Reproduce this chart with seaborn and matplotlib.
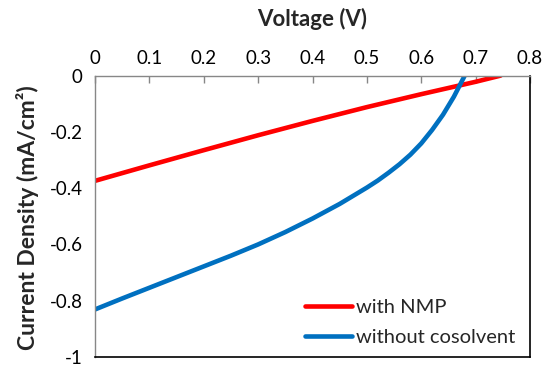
import matplotlib
matplotlib.use("Agg")
import matplotlib.pyplot as plt
import seaborn as sns
import pandas as pd

# ---- data ----
nmp_voltage = [0.0, 0.1, 0.2, 0.3, 0.4, 0.5, 0.6, 0.7, 0.746]
nmp_current = [-0.374, -0.319, -0.265, -0.212, -0.161, -0.112, -0.066, -0.022, 0.0]

nocos_voltage = [0.0, 0.05, 0.1, 0.15, 0.2, 0.25, 0.3, 0.35, 0.4, 0.45, 0.5,
                 0.52, 0.54, 0.56, 0.58, 0.6, 0.62, 0.64, 0.66, 0.68]
nocos_current = [-0.831, -0.792, -0.754, -0.716, -0.678, -0.640, -0.600, -0.556,
                 -0.508, -0.456, -0.398, -0.373, -0.345, -0.315, -0.281, -0.241,
                 -0.193, -0.139, -0.075, 0.0]

series_names = ["with NMP", "without cosolvent"]
series_colors = ["#FF0000", "#0070C0"]

x_ticks = [0, 0.1, 0.2, 0.3, 0.4, 0.5, 0.6, 0.7, 0.8]
x_tick_labels = ["0", "0.1", "0.2", "0.3", "0.4", "0.5", "0.6", "0.7", "0.8"]
y_ticks = [0, -0.2, -0.4, -0.6, -0.8, -1]
y_tick_labels = ["0", "-0.2", "-0.4", "-0.6", "-0.8", "-1"]

x_title = "Voltage (V)"
y_title = "Current Density (mA/cm²)"

df = pd.concat([
    pd.DataFrame({"V": nmp_voltage, "J": nmp_current, "series": series_names[0]}),
    pd.DataFrame({"V": nocos_voltage, "J": nocos_current, "series": series_names[1]}),
], ignore_index=True)

sns.set_style("white")
plt.rcParams["font.family"] = ["Lato", "DejaVu Sans"]

fig = plt.figure(figsize=(5.46, 3.66), dpi=100)
ax = fig.add_axes([95 / 546, 1 - 357 / 366, 435 / 546, (357 - 75.6) / 366])

sns.lineplot(data=df, x="V", y="J", hue="series", palette=series_colors,
             hue_order=series_names, estimator=None, sort=False,
             linewidth=3.3, ax=ax)

ax.set_xlim(0, 0.8)
ax.set_ylim(-1, 0)

ax.xaxis.tick_top()
ax.set_xticks(x_ticks)
ax.set_xticklabels(x_tick_labels)
ax.set_yticks(y_ticks)
ax.set_yticklabels(y_tick_labels)

gray = "#878787"
ax.tick_params(axis="x", direction="in", length=5, width=1, color=gray,
               labelsize=13.5, pad=6, top=True, bottom=False, labelcolor="black")
ax.tick_params(axis="y", direction="in", length=5, width=1, color=gray,
               labelsize=13.5, pad=9, labelcolor="black")

for side in ["top", "left"]:
    ax.spines[side].set_color(gray)
    ax.spines[side].set_linewidth(1.0)
for side in ["right", "bottom"]:
    ax.spines[side].set_color("black")
    ax.spines[side].set_linewidth(1.2)

ax.xaxis.set_label_position("top")
ax.set_xlabel(x_title, fontsize=16, fontweight="bold")
ax.xaxis.label.set_va("center")
ax.xaxis.set_label_coords(0.5, (357 - 19) / 281.4)

ax.set_ylabel(y_title, fontsize=16.5, fontweight="bold")
ax.yaxis.label.set_va("center")
ax.yaxis.set_label_coords((27 - 95) / 435, 0.494)

handles, labels = ax.get_legend_handles_labels()
ax.legend(handles, labels, loc="upper left",
          bbox_to_anchor=(305 / 546, 1 - 299 / 366), bbox_transform=fig.transFigure,
          frameon=False, fontsize=14.5, borderpad=0, borderaxespad=0,
          handlelength=2.35, handletextpad=0.2, labelspacing=0.62)

fig.savefig("out.png", dpi=100)
